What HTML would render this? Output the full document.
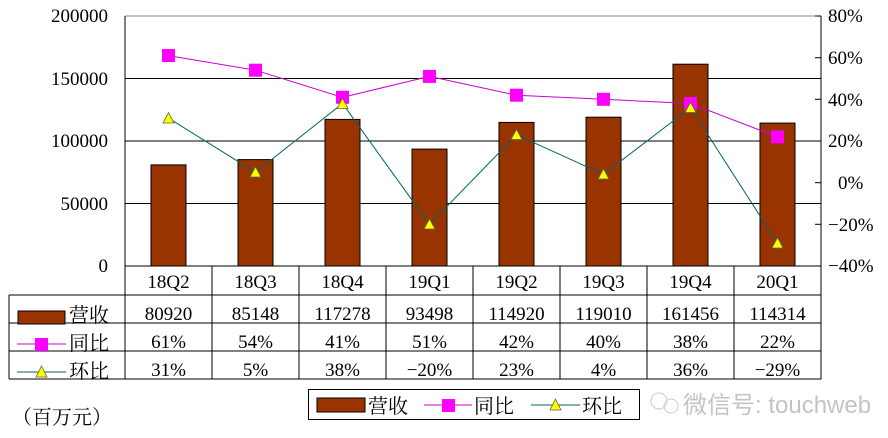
<!DOCTYPE html>
<html><head><meta charset="utf-8"><style>
html,body{margin:0;padding:0;background:#fff;}
svg{display:block;}
text{font-family:"Liberation Serif","Noto Serif CJK SC",serif;fill:#000;}
</style></head><body>
<svg width="888" height="438" viewBox="0 0 888 438" xmlns="http://www.w3.org/2000/svg">
<rect width="888" height="438" fill="#fff"/>
<line x1="125" y1="16" x2="821" y2="16" stroke="#888" stroke-width="1"/>
<g stroke="#000" stroke-width="1">
<line x1="125" y1="78.5" x2="821" y2="78.5"/>
<line x1="125" y1="141" x2="821" y2="141"/>
<line x1="125" y1="203.5" x2="821" y2="203.5"/>
<line x1="125" y1="16" x2="125" y2="379"/>
<line x1="821" y1="16" x2="821" y2="379"/>
<line x1="815" y1="16" x2="821" y2="16"/>
<line x1="815" y1="57.7" x2="821" y2="57.7"/>
<line x1="815" y1="99.3" x2="821" y2="99.3"/>
<line x1="815" y1="141" x2="821" y2="141"/>
<line x1="815" y1="182.7" x2="821" y2="182.7"/>
<line x1="815" y1="224.3" x2="821" y2="224.3"/>
<line x1="815" y1="266" x2="821" y2="266"/>
</g>
<g fill="#993300" stroke="#000" stroke-width="1">
<rect x="151" y="164.9" width="35" height="101.1"/>
<rect x="238" y="159.6" width="35" height="106.4"/>
<rect x="325" y="119.4" width="35" height="146.6"/>
<rect x="412" y="149.1" width="35" height="116.9"/>
<rect x="499" y="122.4" width="35" height="143.6"/>
<rect x="586" y="117.2" width="35" height="148.8"/>
<rect x="673" y="64.2" width="35" height="201.8"/>
<rect x="760" y="123.1" width="35" height="142.9"/>
</g>
<g stroke="#000" stroke-width="1">
<line x1="125" y1="266" x2="821" y2="266"/>
<line x1="9" y1="295" x2="821" y2="295"/>
<line x1="9" y1="323" x2="821" y2="323"/>
<line x1="9" y1="351" x2="821" y2="351"/>
<line x1="9" y1="379" x2="821" y2="379"/>
<line x1="9" y1="295" x2="9" y2="379"/>
<line x1="212" y1="266" x2="212" y2="379"/>
<line x1="299" y1="266" x2="299" y2="379"/>
<line x1="386" y1="266" x2="386" y2="379"/>
<line x1="473" y1="266" x2="473" y2="379"/>
<line x1="560" y1="266" x2="560" y2="379"/>
<line x1="647" y1="266" x2="647" y2="379"/>
<line x1="734" y1="266" x2="734" y2="379"/>
</g>
<polyline fill="none" stroke="#cc00cc" stroke-width="1" points="168.5,55.6 255.5,70.2 342.5,97.3 429.5,76.4 516.5,95.2 603.5,99.3 690.5,103.5 777.5,136.9"/>
<polyline fill="none" stroke="#006666" stroke-width="1" points="168.5,118.1 255.5,172.3 342.5,103.5 429.5,224.3 516.5,134.8 603.5,174.3 690.5,107.7 777.5,243.1"/>
<g fill="#ff00ff">
<rect x="162" y="49" width="13" height="13"/>
<rect x="249" y="63.7" width="13" height="13"/>
<rect x="336" y="90.8" width="13" height="13"/>
<rect x="423" y="69.9" width="13" height="13"/>
<rect x="510" y="88.7" width="13" height="13"/>
<rect x="597" y="92.8" width="13" height="13"/>
<rect x="684" y="97" width="13" height="13"/>
<rect x="771" y="130.4" width="13" height="13"/>
</g>
<g fill="#ffff00" stroke="#556b2f" stroke-width="0.8">
<polygon points="168.5,112.6 174,123 163,123"/>
<polygon points="255.5,166.8 261,177 250,177"/>
<polygon points="342.5,98 348,108.5 337,108.5"/>
<polygon points="429.5,218.8 435,229 424,229"/>
<polygon points="516.5,129.3 522,139.5 511,139.5"/>
<polygon points="603.5,168.8 609,179 598,179"/>
<polygon points="690.5,102.2 696,112.5 685,112.5"/>
<polygon points="777.5,237.6 783,248 772,248"/>
</g>
<g font-size="19" text-anchor="end">
<text x="108" y="22">200000</text>
<text x="108" y="85">150000</text>
<text x="108" y="147">100000</text>
<text x="108" y="210">50000</text>
<text x="108" y="272">0</text>
</g>
<g font-size="19" text-anchor="start">
<text x="828" y="22">80%</text>
<text x="828" y="64">60%</text>
<text x="828" y="106">40%</text>
<text x="828" y="147">20%</text>
<text x="838" y="189">0%</text>
<text x="828" y="231">−20%</text>
<text x="828" y="272">−40%</text>
</g>
<g font-size="19" text-anchor="middle">
<text x="168.5" y="288">18Q2</text><text x="255.5" y="288">18Q3</text><text x="342.5" y="288">18Q4</text><text x="429.5" y="288">19Q1</text><text x="516.5" y="288">19Q2</text><text x="603.5" y="288">19Q3</text><text x="690.5" y="288">19Q4</text><text x="777.5" y="288">20Q1</text>
<text x="168.5" y="320">80920</text><text x="255.5" y="320">85148</text><text x="342.5" y="320">117278</text><text x="429.5" y="320">93498</text><text x="516.5" y="320">114920</text><text x="603.5" y="320">119010</text><text x="690.5" y="320">161456</text><text x="777.5" y="320">114314</text>
<text x="168.5" y="348">61%</text><text x="255.5" y="348">54%</text><text x="342.5" y="348">41%</text><text x="429.5" y="348">51%</text><text x="516.5" y="348">42%</text><text x="603.5" y="348">40%</text><text x="690.5" y="348">38%</text><text x="777.5" y="348">22%</text>
<text x="168.5" y="376">31%</text><text x="255.5" y="376">5%</text><text x="342.5" y="376">38%</text><text x="429.5" y="376">−20%</text><text x="516.5" y="376">23%</text><text x="603.5" y="376">4%</text><text x="690.5" y="376">36%</text><text x="777.5" y="376">−29%</text>
</g>
<rect x="18" y="311" width="47" height="13" fill="#993300" stroke="#000" stroke-width="1"/>
<line x1="17" y1="344" x2="66" y2="344" stroke="#cc00cc"/>
<rect x="35" y="338" width="13" height="13" fill="#ff00ff"/>
<line x1="17" y1="372" x2="66" y2="372" stroke="#006666"/>
<polygon points="41.5,366 47,377 36,377" fill="#ffff00" stroke="#556b2f" stroke-width="0.8"/>
<g font-size="20">
<text x="69" y="322">营收</text>
<text x="69" y="350">同比</text>
<text x="69" y="378">环比</text>
<text x="12" y="424">（百万元）</text>
</g>
<rect x="308.5" y="389.5" width="331" height="30" fill="#fff" stroke="#000" stroke-width="1"/>
<rect x="317" y="398" width="48" height="14" fill="#993300" stroke="#000" stroke-width="1"/>
<text x="368" y="413" font-size="20">营收</text>
<line x1="424" y1="405" x2="472" y2="405" stroke="#cc00cc"/>
<rect x="442" y="399" width="13" height="13" fill="#ff00ff"/>
<text x="474" y="413" font-size="20">同比</text>
<line x1="531" y1="405" x2="580" y2="405" stroke="#006666"/>
<polygon points="555.5,399 561,410 550,410" fill="#ffff00" stroke="#556b2f" stroke-width="0.8"/>
<text x="582" y="413" font-size="20">环比</text>
<g opacity="0.5">
<circle cx="659" cy="401" r="8" fill="none" stroke="#999"/>
<circle cx="671" cy="406" r="7" fill="none" stroke="#999"/>
<text x="683" y="413" font-size="24" style="fill:#888;font-family:'Liberation Sans','Noto Sans CJK SC',sans-serif">微信号: touchweb</text>
</g>
</svg>
</body></html>
